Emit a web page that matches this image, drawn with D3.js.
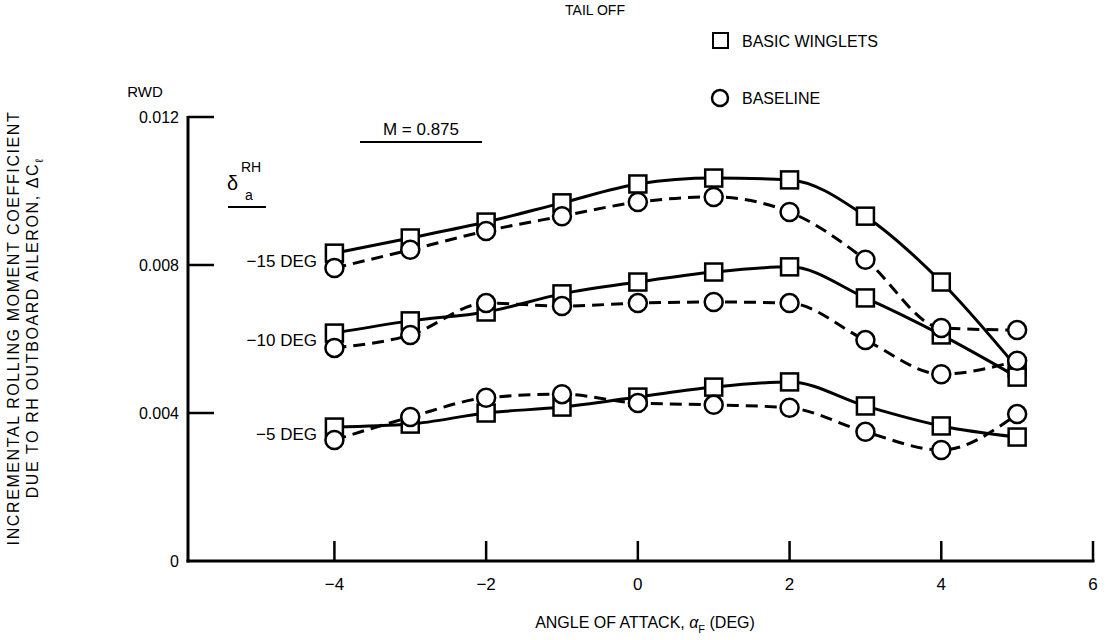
<!DOCTYPE html>
<html>
<head>
<meta charset="utf-8">
<script src="https://cdn.jsdelivr.net/npm/d3@7"></script>
<style>
  html, body { margin: 0; padding: 0; background: #fff; }
  svg { display: block; font-family: "Liberation Sans", Arial, sans-serif; }
</style>
</head>
<body>
<svg id="chart" width="1106" height="640"></svg>
<script>
// ── Data ───────────────────────────────────────────────────────────────────
const alpha = [-4, -3, -2, -1, 0, 1, 2, 3, 4, 5];

const winglets15 = [0.00832, 0.00873, 0.00916, 0.00968, 0.01019, 0.01035, 0.01030, 0.00932, 0.00754, 0.00522];
const baseline15 = [0.00792, 0.00841, 0.00892, 0.00932, 0.00970, 0.00984, 0.00943, 0.00814, 0.00630, 0.00624];
const winglets10 = [0.00616, 0.00649, 0.00673, 0.00722, 0.00754, 0.00781, 0.00795, 0.00711, 0.00611, 0.00497];
const baseline10 = [0.00576, 0.00611, 0.00697, 0.00689, 0.00697, 0.00700, 0.00697, 0.00597, 0.00505, 0.00541];
const winglets5  = [0.00362, 0.00370, 0.00400, 0.00416, 0.00443, 0.00470, 0.00484, 0.00419, 0.00365, 0.00335];
const baseline5  = [0.00327, 0.00389, 0.00441, 0.00451, 0.00427, 0.00422, 0.00414, 0.00349, 0.00300, 0.00397];

const xTicks = [-4, -2, 0, 2, 4, 6];
const yTicks = [0, 0.004, 0.008, 0.012];
const yTickLabels = ['0', '0.004', '0.008', '0.012'];
const deflectionLabels = ['\u221215 DEG', '\u221210 DEG', '\u22125 DEG'];

// ── Scales ─────────────────────────────────────────────────────────────────
const svg = d3.select('#chart');
const x = d3.scaleLinear().domain([-5.93, 6]).range([188, 1093]);
const y = d3.scaleLinear().domain([0, 0.012]).range([561, 117]);

const series = [
  { vals: winglets15, kind: 'wing' }, { vals: baseline15, kind: 'base' },
  { vals: winglets10, kind: 'wing' }, { vals: baseline10, kind: 'base' },
  { vals: winglets5,  kind: 'wing' }, { vals: baseline5,  kind: 'base' }
];

// ── Axes ───────────────────────────────────────────────────────────────────
const axisG = svg.append('g');
axisG.append('line')
  .attr('x1', x.range()[0]).attr('x2', x.range()[0])
  .attr('y1', y(0.012) - 1).attr('y2', y(0) + 1.5)
  .attr('stroke', '#000').attr('stroke-width', 3);
axisG.append('line')
  .attr('x1', x.range()[0] - 1.5).attr('x2', x(6) + 1.5)
  .attr('y1', y(0)).attr('y2', y(0))
  .attr('stroke', '#000').attr('stroke-width', 3);

// y ticks point inward (right)
axisG.selectAll('.yt').data(yTicks.filter(d => d > 0)).join('line')
  .attr('x1', x.range()[0]).attr('x2', x.range()[0] + 26)
  .attr('y1', d => y(d)).attr('y2', d => y(d))
  .attr('stroke', '#000').attr('stroke-width', 2.5);
axisG.selectAll('.yl').data(yTicks).join('text')
  .attr('x', 179).attr('y', d => y(d) + 6)
  .attr('text-anchor', 'end').attr('font-size', 16)
  .text((d, i) => yTickLabels[i]);

// x ticks point inward (up)
axisG.selectAll('.xt').data(xTicks).join('line')
  .attr('x1', d => x(d)).attr('x2', d => x(d))
  .attr('y1', y(0)).attr('y2', y(0) - 20)
  .attr('stroke', '#000').attr('stroke-width', 2.5);
axisG.selectAll('.xl').data(xTicks).join('text')
  .attr('x', d => x(d)).attr('y', 590)
  .attr('text-anchor', 'middle').attr('font-size', 17)
  .text(d => d < 0 ? '\u2212' + Math.abs(d) : d);

// ── Titles & annotations ──────────────────────────────────────────────────
svg.append('text').attr('x', 145).attr('y', 97).attr('font-size', 15)
  .attr('text-anchor', 'middle').text('RWD');

svg.append('text').attr('x', 595).attr('y', 15).attr('font-size', 14)
  .attr('text-anchor', 'middle').text('TAIL OFF');

const xt = svg.append('text').attr('x', 645).attr('y', 628)
  .attr('text-anchor', 'middle').attr('font-size', 16);
xt.append('tspan').text('ANGLE OF ATTACK, ');
xt.append('tspan').text('\u03b1').attr('font-style', 'italic');
xt.append('tspan').text('F').attr('font-size', 11).attr('dy', 5);
xt.append('tspan').text(' (DEG)').attr('dy', -5);

const yt = svg.append('g').attr('transform', 'translate(0,328) rotate(-90)');
yt.append('text').attr('x', 0).attr('y', 19).attr('text-anchor', 'middle')
  .attr('font-size', 16).attr('letter-spacing', 1.6)
  .text('INCREMENTAL ROLLING MOMENT COEFFICIENT');
const yt2 = yt.append('text').attr('x', 0).attr('y', 38).attr('text-anchor', 'middle')
  .attr('font-size', 16).attr('letter-spacing', 1.6);
yt2.append('tspan').text('DUE TO RH OUTBOARD AILERON, \u0394C');
yt2.append('tspan').text('\u2113').attr('font-size', 11).attr('dy', 5);

// Mach number
svg.append('text').attr('x', 421).attr('y', 135).attr('text-anchor', 'middle')
  .attr('font-size', 17).text('M  =  0.875');
svg.append('line').attr('x1', 360).attr('x2', 482).attr('y1', 142).attr('y2', 142)
  .attr('stroke', '#000').attr('stroke-width', 2);

// delta_a^RH
svg.append('text').attr('x', 227).attr('y', 190).attr('font-size', 20).text('\u03b4');
svg.append('text').attr('x', 241).attr('y', 172).attr('font-size', 14).text('RH');
svg.append('text').attr('x', 245).attr('y', 200).attr('font-size', 14).text('a');
svg.append('line').attr('x1', 228).attr('x2', 266).attr('y1', 207).attr('y2', 207)
  .attr('stroke', '#000').attr('stroke-width', 2);

// deflection labels, placed at the first point of each group
svg.selectAll('.dl').data([winglets15, winglets10, winglets5]).join('text')
  .attr('x', 317).attr('y', (d, i) => y((d[0] + series[i * 2 + 1].vals[0]) / 2) + 6)
  .attr('text-anchor', 'end').attr('font-size', 17)
  .text((d, i) => deflectionLabels[i]);

// ── Curves ─────────────────────────────────────────────────────────────────
const line = d3.line()
  .x((d, i) => x(alpha[i]))
  .y(d => y(d))
  .curve(d3.curveMonotoneX);

svg.append('g').selectAll('path').data(series).join('path')
  .attr('d', s => line(s.vals))
  .attr('fill', 'none').attr('stroke', '#000')
  .attr('stroke-width', 3)
  .attr('stroke-dasharray', s => s.kind === 'base' ? '12,7' : null);

// squares first, circles on top
const sq = 17;
svg.append('g').selectAll('g').data(series.filter(s => s.kind === 'wing')).join('g')
  .selectAll('rect').data(s => s.vals).join('rect')
  .attr('x', (d, i) => x(alpha[i]) - sq / 2).attr('y', d => y(d) - sq / 2)
  .attr('width', sq).attr('height', sq)
  .attr('fill', '#fff').attr('stroke', '#000').attr('stroke-width', 2.5);

svg.append('g').selectAll('g').data(series.filter(s => s.kind === 'base')).join('g')
  .selectAll('circle').data(s => s.vals).join('circle')
  .attr('cx', (d, i) => x(alpha[i])).attr('cy', d => y(d)).attr('r', 9)
  .attr('fill', '#fff').attr('stroke', '#000').attr('stroke-width', 2.5);

// ── Legend ─────────────────────────────────────────────────────────────────
const leg = svg.append('g');
leg.append('rect').attr('x', 713).attr('y', 33).attr('width', 15).attr('height', 15)
  .attr('fill', '#fff').attr('stroke', '#000').attr('stroke-width', 2);
leg.append('text').attr('x', 742).attr('y', 47).attr('font-size', 16).text('BASIC WINGLETS');
leg.append('circle').attr('cx', 720).attr('cy', 98).attr('r', 8)
  .attr('fill', '#fff').attr('stroke', '#000').attr('stroke-width', 2.5);
leg.append('text').attr('x', 742).attr('y', 104).attr('font-size', 16).text('BASELINE');
</script>
</body>
</html>
